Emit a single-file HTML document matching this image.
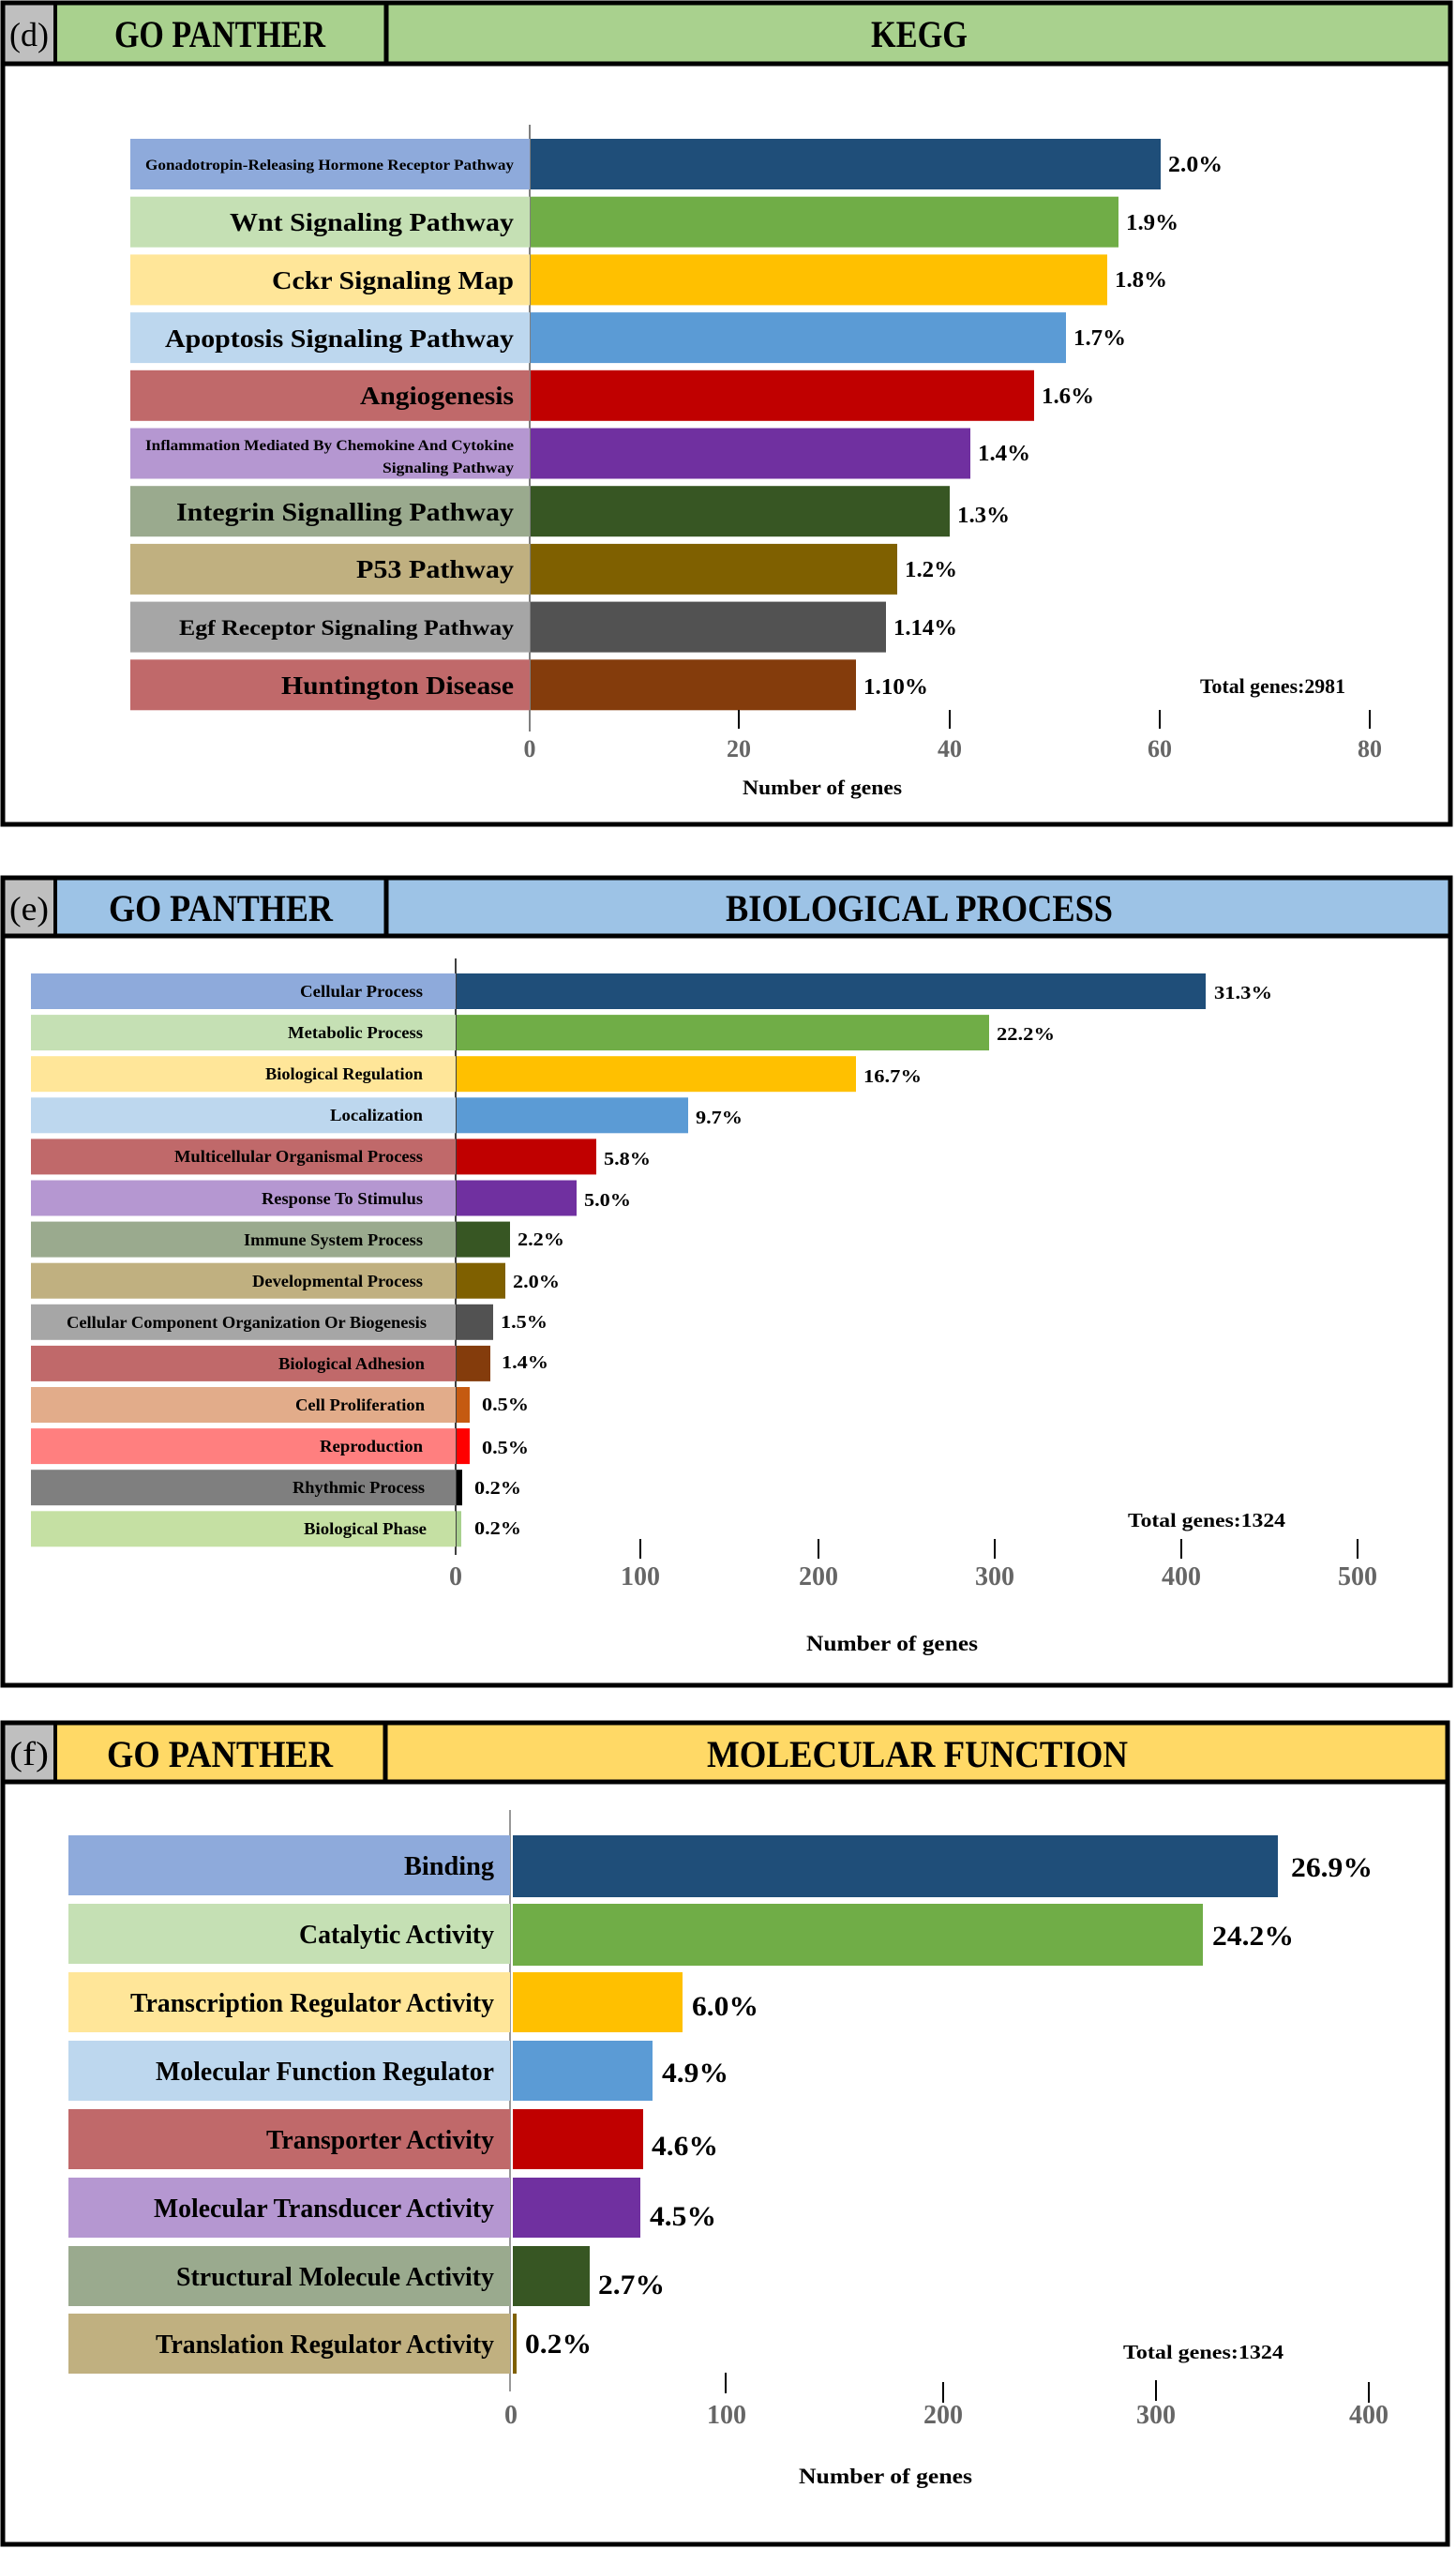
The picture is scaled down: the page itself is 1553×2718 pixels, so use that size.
<!DOCTYPE html>
<html><head><meta charset="utf-8"><style>
html,body{margin:0;padding:0;background:#fff;}
svg{display:block;}
text{font-family:"Liberation Serif",serif;font-weight:bold;}
</style></head><body>
<svg width="1553" height="2718" viewBox="0 0 1553 2718" xmlns="http://www.w3.org/2000/svg">
<rect width="1553" height="2718" fill="#fff"/>

<!-- ================= PANEL D ================= -->
<rect x="3" y="3" width="56" height="65" fill="#bfbfbf"/>
<rect x="59" y="3" width="1488" height="65" fill="#a9d18e"/>
<rect x="3" y="3" width="1544" height="876" fill="none" stroke="#000" stroke-width="5"/>
<line x1="3" y1="68" x2="1547" y2="68" stroke="#000" stroke-width="5"/>
<line x1="59" y1="3" x2="59" y2="68" stroke="#000" stroke-width="4"/>
<line x1="412" y1="3" x2="412" y2="68" stroke="#000" stroke-width="5"/>
<text x="10" y="49" font-size="36" style="font-weight:normal" textLength="42" lengthAdjust="spacingAndGlyphs">(d)</text>
<text x="122" y="50" font-size="40" textLength="225" lengthAdjust="spacingAndGlyphs">GO PANTHER</text>
<text x="929" y="50" font-size="40" textLength="103" lengthAdjust="spacingAndGlyphs">KEGG</text>

<line x1="565" y1="133" x2="565" y2="780" stroke="#555" stroke-width="1.5"/>
<g>
<rect x="139" y="148" width="426" height="54" fill="#8eaadb"/><rect x="566" y="148" width="672" height="54" fill="#1f4e79"/>
<rect x="139" y="209.7" width="426" height="54" fill="#c5e0b4"/><rect x="566" y="209.7" width="627" height="54" fill="#70ad47"/>
<rect x="139" y="271.4" width="426" height="54" fill="#ffe699"/><rect x="566" y="271.4" width="615" height="54" fill="#ffc000"/>
<rect x="139" y="333.1" width="426" height="54" fill="#bdd7ee"/><rect x="566" y="333.1" width="571" height="54" fill="#5b9bd5"/>
<rect x="139" y="394.8" width="426" height="54" fill="#c0696a"/><rect x="566" y="394.8" width="537" height="54" fill="#c00000"/>
<rect x="139" y="456.5" width="426" height="54" fill="#b597d1"/><rect x="566" y="456.5" width="469" height="54" fill="#7030a0"/>
<rect x="139" y="518.2" width="426" height="54" fill="#9aaa8e"/><rect x="566" y="518.2" width="447" height="54" fill="#375623"/>
<rect x="139" y="579.9" width="426" height="54" fill="#c0b080"/><rect x="566" y="579.9" width="391" height="54" fill="#7f6000"/>
<rect x="139" y="641.6" width="426" height="54" fill="#a6a6a6"/><rect x="566" y="641.6" width="379" height="54" fill="#525252"/>
<rect x="139" y="703.3" width="426" height="54" fill="#c0696a"/><rect x="566" y="703.3" width="347" height="54" fill="#843c0c"/>
</g>
<g font-size="27">
<text x="155" y="181" font-size="16" textLength="393" lengthAdjust="spacingAndGlyphs">Gonadotropin-Releasing Hormone Receptor Pathway</text>
<text x="245" y="246" textLength="303" lengthAdjust="spacingAndGlyphs">Wnt Signaling Pathway</text>
<text x="290" y="308" textLength="258" lengthAdjust="spacingAndGlyphs">Cckr Signaling Map</text>
<text x="176" y="370" textLength="372" lengthAdjust="spacingAndGlyphs">Apoptosis Signaling Pathway</text>
<text x="384" y="431" textLength="164" lengthAdjust="spacingAndGlyphs">Angiogenesis</text>
<text x="155" y="480" font-size="16" textLength="393" lengthAdjust="spacingAndGlyphs">Inflammation Mediated By Chemokine And Cytokine</text>
<text x="408" y="504" font-size="16" textLength="140" lengthAdjust="spacingAndGlyphs">Signaling Pathway</text>
<text x="188" y="555" textLength="360" lengthAdjust="spacingAndGlyphs">Integrin Signalling Pathway</text>
<text x="380" y="616" textLength="168" lengthAdjust="spacingAndGlyphs">P53 Pathway</text>
<text x="191" y="677" font-size="23" textLength="357" lengthAdjust="spacingAndGlyphs">Egf Receptor Signaling Pathway</text>
<text x="300" y="740" textLength="248" lengthAdjust="spacingAndGlyphs">Huntington Disease</text>
</g>
<g font-size="24">
<text x="1246" y="183" textLength="58" lengthAdjust="spacingAndGlyphs">2.0%</text>
<text x="1201" y="245" textLength="56" lengthAdjust="spacingAndGlyphs">1.9%</text>
<text x="1189" y="306" textLength="56" lengthAdjust="spacingAndGlyphs">1.8%</text>
<text x="1145" y="368" textLength="56" lengthAdjust="spacingAndGlyphs">1.7%</text>
<text x="1111" y="430" textLength="56" lengthAdjust="spacingAndGlyphs">1.6%</text>
<text x="1043" y="491" textLength="56" lengthAdjust="spacingAndGlyphs">1.4%</text>
<text x="1021" y="557" textLength="56" lengthAdjust="spacingAndGlyphs">1.3%</text>
<text x="965" y="615" textLength="56" lengthAdjust="spacingAndGlyphs">1.2%</text>
<text x="953" y="677" textLength="68" lengthAdjust="spacingAndGlyphs">1.14%</text>
<text x="921" y="740" textLength="69" lengthAdjust="spacingAndGlyphs">1.10%</text>
<text x="1280" y="739" font-size="22" textLength="155" lengthAdjust="spacingAndGlyphs">Total genes:2981</text>
</g>
<g stroke="#000" stroke-width="2">
<line x1="788" y1="757" x2="788" y2="777"/><line x1="1013" y1="757" x2="1013" y2="777"/><line x1="1237" y1="757" x2="1237" y2="777"/><line x1="1461" y1="757" x2="1461" y2="777"/>
</g>
<g font-size="26" fill="#666" text-anchor="middle">
<text x="565" y="807">0</text><text x="788" y="807">20</text><text x="1013" y="807">40</text><text x="1237" y="807">60</text><text x="1461" y="807">80</text>
</g>
<text x="792" y="847" font-size="22" textLength="170" lengthAdjust="spacingAndGlyphs">Number of genes</text>

<!-- ================= PANEL E ================= -->
<rect x="3" y="936" width="56" height="62" fill="#bfbfbf"/>
<rect x="59" y="936" width="1488" height="62" fill="#9dc3e6"/>
<rect x="3" y="936" width="1544" height="861" fill="none" stroke="#000" stroke-width="5"/>
<line x1="3" y1="998" x2="1547" y2="998" stroke="#000" stroke-width="5"/>
<line x1="59" y1="936" x2="59" y2="998" stroke="#000" stroke-width="4"/>
<line x1="412" y1="936" x2="412" y2="998" stroke="#000" stroke-width="5"/>
<text x="10" y="981" font-size="36" style="font-weight:normal" textLength="42" lengthAdjust="spacingAndGlyphs">(e)</text>
<text x="116" y="982" font-size="40" textLength="239" lengthAdjust="spacingAndGlyphs">GO PANTHER</text>
<text x="774" y="982" font-size="40" textLength="413" lengthAdjust="spacingAndGlyphs">BIOLOGICAL PROCESS</text>

<line x1="486" y1="1022" x2="486" y2="1658" stroke="#000" stroke-width="1.5"/>
<g>
<rect x="33" y="1038" width="453" height="38" fill="#8eaadb"/><rect x="487" y="1038" width="799" height="38" fill="#1f4e79"/>
<rect x="33" y="1082.1" width="453" height="38" fill="#c5e0b4"/><rect x="487" y="1082.1" width="568" height="38" fill="#70ad47"/>
<rect x="33" y="1126.2" width="453" height="38" fill="#ffe699"/><rect x="487" y="1126.2" width="426" height="38" fill="#ffc000"/>
<rect x="33" y="1170.3" width="453" height="38" fill="#bdd7ee"/><rect x="487" y="1170.3" width="247" height="38" fill="#5b9bd5"/>
<rect x="33" y="1214.4" width="453" height="38" fill="#c0696a"/><rect x="487" y="1214.4" width="149" height="38" fill="#c00000"/>
<rect x="33" y="1258.5" width="453" height="38" fill="#b597d1"/><rect x="487" y="1258.5" width="128" height="38" fill="#7030a0"/>
<rect x="33" y="1302.6" width="453" height="38" fill="#9aaa8e"/><rect x="487" y="1302.6" width="57" height="38" fill="#375623"/>
<rect x="33" y="1346.7" width="453" height="38" fill="#c0b080"/><rect x="487" y="1346.7" width="52" height="38" fill="#7f6000"/>
<rect x="33" y="1390.8" width="453" height="38" fill="#a6a6a6"/><rect x="487" y="1390.8" width="39" height="38" fill="#525252"/>
<rect x="33" y="1434.9" width="453" height="38" fill="#c0696a"/><rect x="487" y="1434.9" width="36" height="38" fill="#843c0c"/>
<rect x="33" y="1479" width="453" height="38" fill="#e2ac8a"/><rect x="487" y="1479" width="14" height="38" fill="#c55a11"/>
<rect x="33" y="1523.1" width="453" height="38" fill="#ff7f7f"/><rect x="487" y="1523.1" width="14" height="38" fill="#ff0000"/>
<rect x="33" y="1567.2" width="453" height="38" fill="#7f7f7f"/><rect x="487" y="1567.2" width="6" height="38" fill="#000"/>
<rect x="33" y="1611.3" width="453" height="38" fill="#c5e0a3"/><rect x="487" y="1611.3" width="5" height="38" fill="#a9d18e"/>
</g>
<g font-size="18">
<text x="320" y="1063" textLength="131" lengthAdjust="spacingAndGlyphs">Cellular Process</text>
<text x="307" y="1107" textLength="144" lengthAdjust="spacingAndGlyphs">Metabolic Process</text>
<text x="283" y="1151" textLength="168" lengthAdjust="spacingAndGlyphs">Biological Regulation</text>
<text x="352" y="1195" textLength="99" lengthAdjust="spacingAndGlyphs">Localization</text>
<text x="186" y="1239" textLength="265" lengthAdjust="spacingAndGlyphs">Multicellular Organismal Process</text>
<text x="279" y="1284" textLength="172" lengthAdjust="spacingAndGlyphs">Response To Stimulus</text>
<text x="260" y="1328" textLength="191" lengthAdjust="spacingAndGlyphs">Immune System Process</text>
<text x="269" y="1372" textLength="182" lengthAdjust="spacingAndGlyphs">Developmental Process</text>
<text x="71" y="1416" textLength="384" lengthAdjust="spacingAndGlyphs">Cellular Component Organization Or Biogenesis</text>
<text x="297" y="1460" textLength="156" lengthAdjust="spacingAndGlyphs">Biological Adhesion</text>
<text x="315" y="1504" textLength="138" lengthAdjust="spacingAndGlyphs">Cell Proliferation</text>
<text x="341" y="1548" textLength="110" lengthAdjust="spacingAndGlyphs">Reproduction</text>
<text x="312" y="1592" textLength="141" lengthAdjust="spacingAndGlyphs">Rhythmic Process</text>
<text x="324" y="1636" textLength="131" lengthAdjust="spacingAndGlyphs">Biological Phase</text>
</g>
<g font-size="20">
<text x="1295" y="1065" textLength="62" lengthAdjust="spacingAndGlyphs">31.3%</text>
<text x="1063" y="1109" textLength="62" lengthAdjust="spacingAndGlyphs">22.2%</text>
<text x="921" y="1154" textLength="62" lengthAdjust="spacingAndGlyphs">16.7%</text>
<text x="742" y="1198" textLength="50" lengthAdjust="spacingAndGlyphs">9.7%</text>
<text x="644" y="1242" textLength="50" lengthAdjust="spacingAndGlyphs">5.8%</text>
<text x="623" y="1286" textLength="50" lengthAdjust="spacingAndGlyphs">5.0%</text>
<text x="552" y="1328" textLength="50" lengthAdjust="spacingAndGlyphs">2.2%</text>
<text x="547" y="1373" textLength="50" lengthAdjust="spacingAndGlyphs">2.0%</text>
<text x="534" y="1416" textLength="50" lengthAdjust="spacingAndGlyphs">1.5%</text>
<text x="535" y="1459" textLength="50" lengthAdjust="spacingAndGlyphs">1.4%</text>
<text x="514" y="1504" textLength="50" lengthAdjust="spacingAndGlyphs">0.5%</text>
<text x="514" y="1550" textLength="50" lengthAdjust="spacingAndGlyphs">0.5%</text>
<text x="506" y="1593" textLength="50" lengthAdjust="spacingAndGlyphs">0.2%</text>
<text x="506" y="1636" textLength="50" lengthAdjust="spacingAndGlyphs">0.2%</text>
<text x="1203" y="1628" font-size="21" textLength="168" lengthAdjust="spacingAndGlyphs">Total genes:1324</text>
</g>
<g stroke="#000" stroke-width="2">
<line x1="683" y1="1641" x2="683" y2="1662"/><line x1="873" y1="1641" x2="873" y2="1662"/><line x1="1061" y1="1641" x2="1061" y2="1662"/><line x1="1260" y1="1641" x2="1260" y2="1662"/><line x1="1448" y1="1641" x2="1448" y2="1662"/>
</g>
<g font-size="28" fill="#666" text-anchor="middle">
<text x="486" y="1690">0</text><text x="683" y="1690">100</text><text x="873" y="1690">200</text><text x="1061" y="1690">300</text><text x="1260" y="1690">400</text><text x="1448" y="1690">500</text>
</g>
<text x="860" y="1760" font-size="23" textLength="183" lengthAdjust="spacingAndGlyphs">Number of genes</text>

<!-- ================= PANEL F ================= -->
<rect x="3" y="1837" width="56" height="63" fill="#bfbfbf"/>
<rect x="59" y="1837" width="1485" height="63" fill="#ffd966"/>
<rect x="3" y="1837" width="1541" height="876" fill="none" stroke="#000" stroke-width="5"/>
<line x1="3" y1="1900" x2="1544" y2="1900" stroke="#000" stroke-width="5"/>
<line x1="59" y1="1837" x2="59" y2="1900" stroke="#000" stroke-width="4"/>
<line x1="411" y1="1837" x2="411" y2="1900" stroke="#000" stroke-width="5"/>
<text x="10" y="1882" font-size="36" style="font-weight:normal" textLength="42" lengthAdjust="spacingAndGlyphs">(f)</text>
<text x="114" y="1884" font-size="40" textLength="241" lengthAdjust="spacingAndGlyphs">GO PANTHER</text>
<text x="754" y="1884" font-size="40" textLength="449" lengthAdjust="spacingAndGlyphs">MOLECULAR FUNCTION</text>

<line x1="544" y1="1930" x2="544" y2="2550" stroke="#777" stroke-width="1.5"/>
<g>
<rect x="73" y="1957" width="471" height="64" fill="#8eaadb"/><rect x="547" y="1957" width="816" height="66" fill="#1f4e79"/>
<rect x="73" y="2030" width="471" height="64" fill="#c5e0b4"/><rect x="547" y="2030" width="736" height="66" fill="#70ad47"/>
<rect x="73" y="2103" width="471" height="64" fill="#ffe699"/><rect x="547" y="2103" width="181" height="64" fill="#ffc000"/>
<rect x="73" y="2176" width="471" height="64" fill="#bdd7ee"/><rect x="547" y="2176" width="149" height="64" fill="#5b9bd5"/>
<rect x="73" y="2249" width="471" height="64" fill="#c0696a"/><rect x="547" y="2249" width="139" height="64" fill="#c00000"/>
<rect x="73" y="2322" width="471" height="64" fill="#b597d1"/><rect x="547" y="2322" width="136" height="64" fill="#7030a0"/>
<rect x="73" y="2395" width="471" height="64" fill="#9aaa8e"/><rect x="547" y="2395" width="82" height="64" fill="#375623"/>
<rect x="73" y="2467" width="471" height="64" fill="#c0b080"/><rect x="547" y="2467" width="4" height="64" fill="#7f6000"/>
</g>
<g font-size="28">
<text x="431" y="1999" textLength="96" lengthAdjust="spacingAndGlyphs">Binding</text>
<text x="319" y="2072" textLength="208" lengthAdjust="spacingAndGlyphs">Catalytic Activity</text>
<text x="139" y="2145" textLength="388" lengthAdjust="spacingAndGlyphs">Transcription Regulator Activity</text>
<text x="166" y="2218" textLength="361" lengthAdjust="spacingAndGlyphs">Molecular Function Regulator</text>
<text x="284" y="2291" textLength="243" lengthAdjust="spacingAndGlyphs">Transporter Activity</text>
<text x="164" y="2364" textLength="363" lengthAdjust="spacingAndGlyphs">Molecular Transducer Activity</text>
<text x="188" y="2437" textLength="339" lengthAdjust="spacingAndGlyphs">Structural Molecule Activity</text>
<text x="166" y="2509" textLength="361" lengthAdjust="spacingAndGlyphs">Translation Regulator Activity</text>
</g>
<g font-size="30">
<text x="1377" y="2001" textLength="87" lengthAdjust="spacingAndGlyphs">26.9%</text>
<text x="1293" y="2074" textLength="87" lengthAdjust="spacingAndGlyphs">24.2%</text>
<text x="738" y="2149" textLength="71" lengthAdjust="spacingAndGlyphs">6.0%</text>
<text x="706" y="2220" textLength="71" lengthAdjust="spacingAndGlyphs">4.9%</text>
<text x="695" y="2298" textLength="71" lengthAdjust="spacingAndGlyphs">4.6%</text>
<text x="693" y="2373" textLength="71" lengthAdjust="spacingAndGlyphs">4.5%</text>
<text x="638" y="2446" textLength="71" lengthAdjust="spacingAndGlyphs">2.7%</text>
<text x="560" y="2509" textLength="71" lengthAdjust="spacingAndGlyphs">0.2%</text>
<text x="1198" y="2515" font-size="21" textLength="171" lengthAdjust="spacingAndGlyphs">Total genes:1324</text>
</g>
<g stroke="#000" stroke-width="2">
<line x1="774" y1="2530" x2="774" y2="2552"/><line x1="1006" y1="2540" x2="1006" y2="2562"/><line x1="1233" y1="2538" x2="1233" y2="2560"/><line x1="1460" y1="2540" x2="1460" y2="2562"/>
</g>
<g font-size="28" fill="#666" text-anchor="middle">
<text x="545" y="2584">0</text><text x="775" y="2584">100</text><text x="1006" y="2584">200</text><text x="1233" y="2584">300</text><text x="1460" y="2584">400</text>
</g>
<text x="852" y="2648" font-size="23" textLength="185" lengthAdjust="spacingAndGlyphs">Number of genes</text>
</svg>
</body></html>
